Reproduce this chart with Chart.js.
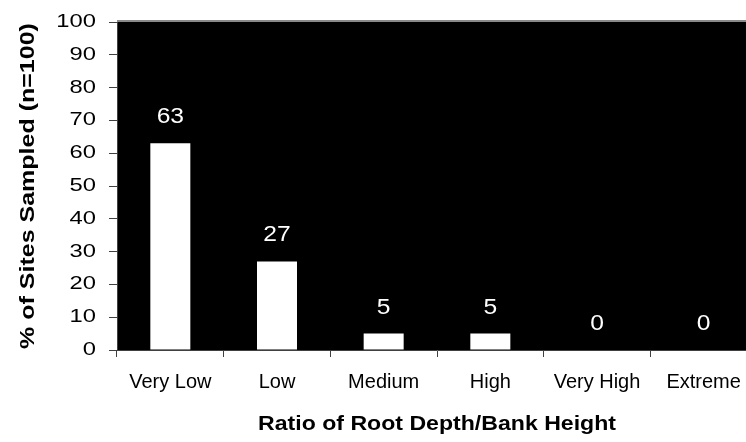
<!DOCTYPE html>
<html>
<head>
<meta charset="utf-8">
<title>Root Depth / Bank Height</title>
<script src="https://cdn.jsdelivr.net/npm/chart.js@4/dist/chart.umd.min.js"></script>
<style>
    html, body { margin: 0; padding: 0; background: #fff; overflow: hidden; }
    #chart { display: block; }
</style>
</head>
<body>
<canvas id="chart" width="760" height="442"></canvas>
<script>
// Data
const categories = ['Very Low', 'Low', 'Medium', 'High', 'Very High', 'Extreme'];
const sitePercent = [63, 27, 5, 5, 0, 0];
const yTicks = [0, 10, 20, 30, 40, 50, 60, 70, 80, 90, 100];

const FONT = '"Liberation Sans", Arial, sans-serif';

// Text is drawn a little wider than the font's natural width
const drawText = (ctx, text, x, y, opts) => {
    ctx.save();
    ctx.translate(x, y);
    if (opts.rotate) ctx.rotate(opts.rotate);
    ctx.scale(opts.sx || 1, 1);
    ctx.font = opts.font;
    ctx.fillStyle = opts.color || '#000';
    ctx.textAlign = opts.align || 'center';
    ctx.textBaseline = 'alphabetic';
    ctx.fillText(text, 0, 0);
    ctx.restore();
};

// Black plot background and the thin border on top
const plotBackground = {
    id: 'plotBackground',
    beforeDraw(chart) {
        const { ctx, chartArea: a } = chart;
        ctx.save();
        ctx.fillStyle = '#000';
        ctx.fillRect(a.left, a.top, a.right - a.left, a.bottom - a.top);
        ctx.strokeStyle = '#8a8a8a';
        ctx.lineWidth = 2;
        ctx.beginPath();
        ctx.moveTo(a.left, a.top - 1);
        ctx.lineTo(a.right, a.top - 1);
        ctx.stroke();
        ctx.restore();
    }
};

// Tick labels, axis titles and value labels
const chartText = {
    id: 'chartText',
    afterDraw(chart) {
        const { ctx, chartArea: a } = chart;
        const x = chart.scales.x;
        const y = chart.scales.y;

        yTicks.forEach(v => {
            drawText(ctx, String(v), 96, y.getPixelForValue(v) + 5,
                { font: '19px ' + FONT, sx: 1.25, align: 'right' });
        });

        categories.forEach((c, i) => {
            drawText(ctx, c, x.getPixelForValue(i), 388,
                { font: '20px ' + FONT, sx: 1.0 });
        });

        drawText(ctx, 'Ratio of Root Depth/Bank Height', (a.left + a.right) / 2, 430,
            { font: 'bold 21px ' + FONT, sx: 1.1 });

        drawText(ctx, '% of Sites Sampled (n=100)', 34, (a.top + a.bottom) / 2,
            { font: 'bold 20px ' + FONT, sx: 1.25, rotate: -Math.PI / 2 });

        const meta = chart.getDatasetMeta(0);
        meta.data.forEach((bar, i) => {
            drawText(ctx, String(sitePercent[i]), bar.x, bar.y - 20,
                { font: '22px ' + FONT, sx: 1.12, color: '#fff' });
        });
    }
};

new Chart(document.getElementById('chart'), {
    type: 'bar',
    data: {
        labels: categories,
        datasets: [{
            data: sitePercent,
            backgroundColor: '#fff',
            borderWidth: 0,
            barPercentage: 0.375,
            categoryPercentage: 1
        }]
    },
    options: {
        responsive: false,
        animation: false,
        layout: { padding: { top: 22, right: 3, left: 0, bottom: 0 } },
        plugins: {
            legend: { display: false },
            tooltip: { enabled: false }
        },
        scales: {
            x: {
                grid: { drawOnChartArea: false, tickLength: 7, color: '#404040' },
                border: { color: '#404040', width: 1 },
                ticks: { display: false },
                afterFit: s => { s.height = 92; }
            },
            y: {
                min: 0,
                max: 100,
                grid: { drawOnChartArea: false, tickLength: 8, color: '#404040' },
                border: { color: '#404040', width: 1 },
                ticks: { display: false, stepSize: 10 },
                afterFit: s => { s.width = 117; }
            }
        }
    },
    plugins: [plotBackground, chartText]
});
</script>
</body>
</html>
